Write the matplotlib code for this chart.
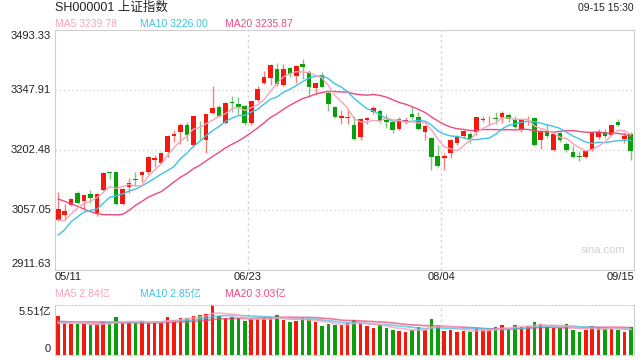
import pandas as pd
import matplotlib
matplotlib.use("Agg")
import matplotlib.pyplot as plt

plt.rcParams['font.family'] = ['Liberation Sans', 'Noto Sans CJK SC', 'DejaVu Sans']

# 上证指数 日K 2022-05-11 .. 2022-09-15
dates = ['05/11', '06/23', '08/04', '09/15']
date_idx = [0, 30, 60, 89]

# closes before the window (for the moving averages)
close_prev = [3167.13, 3213.33, 3186.82, 3225.64, 3211.24, 3195.52, 3194.03, 3151.05,
              3079.81, 3086.92, 2928.51, 2886.43, 2958.28, 2975.48, 3047.06, 3067.76,
              3001.56, 3004.14, 3035.84]

opens = [3034, 3046, 3070, 3099, 3078, 3095, 3050, 3106, 3148.5, 3148,
         3072, 3113, 3133, 3143, 3148, 3178, 3172, 3197, 3237, 3247,
         3262, 3215, 3256.5, 3226, 3291, 3306, 3268, 3318, 3313, 3309,
         3268, 3323, 3364, 3378, 3398, 3360, 3401, 3382, 3410, 3392,
         3352, 3385, 3340, 3307, 3280, 3280, 3262, 3234, 3276, 3294,
         3297, 3275, 3271, 3253, 3273, 3289, 3283, 3247, 3231, 3188,
         3182, 3196, 3220, 3236, 3241, 3245, 3274, 3274, 3279, 3283,
         3288, 3276, 3250, 3274, 3280, 3226, 3249, 3202, 3243, 3217,
         3198, 3187, 3186, 3205, 3235, 3245, 3240, 3270, 3228, 3242]
highs = [3100, 3071, 3086, 3104, 3097, 3105, 3099, 3148, 3150, 3150,
         3110, 3135, 3148, 3152, 3189, 3190, 3198, 3238, 3252, 3267,
         3271, 3286, 3273, 3290, 3358, 3312, 3320, 3333, 3330, 3312,
         3322, 3357, 3393, 3412, 3414, 3412, 3404, 3408, 3424, 3396,
         3368, 3392, 3345, 3310, 3300, 3303, 3286, 3280, 3283, 3308,
         3302, 3290, 3273, 3283, 3282, 3306, 3295, 3262, 3233, 3215,
         3195, 3229, 3240, 3250, 3247, 3283, 3285, 3285, 3295, 3298,
         3292, 3285, 3279, 3285, 3282, 3250, 3265, 3242, 3246, 3222,
         3214, 3199, 3201, 3245, 3254, 3254, 3263, 3278, 3245, 3246]
lows = [3030, 3033, 3066, 3072, 3060, 3074, 3042, 3103, 3131, 3068,
        3070, 3098, 3115, 3125, 3144, 3162, 3170, 3185, 3222, 3218,
        3225, 3210, 3228, 3196, 3289, 3283, 3265, 3295, 3290, 3264,
        3262, 3320, 3362, 3360, 3358, 3358, 3380, 3364, 3375, 3333,
        3336, 3354, 3297, 3279, 3265, 3265, 3226, 3226, 3265, 3290,
        3268, 3255, 3244, 3251, 3265, 3278, 3250, 3227, 3155, 3161,
        3155, 3184, 3215, 3232, 3219, 3238, 3270, 3263, 3265, 3268,
        3270, 3255, 3247, 3263, 3212, 3205, 3232, 3200, 3222, 3198,
        3183, 3175, 3182, 3200, 3230, 3232, 3238, 3260, 3220, 3178]
closes = [3058.70, 3054.99, 3084.28, 3073.75, 3093.70, 3085.98, 3096.96, 3146.57, 3146.86, 3070.93,
          3107.46, 3123.11, 3130.24, 3149.06, 3186.43, 3182.16, 3195.46, 3236.37, 3241.76, 3263.79,
          3238.95, 3284.83, 3255.55, 3288.91, 3305.41, 3285.38, 3316.79, 3315.43, 3306.72, 3267.20,
          3320.15, 3349.75, 3379.19, 3409.21, 3361.52, 3398.62, 3387.64, 3405.43, 3404.03, 3355.35,
          3364.40, 3356.08, 3313.58, 3281.47, 3284.29, 3281.74, 3228.06, 3278.10, 3279.43, 3304.72,
          3272.00, 3269.97, 3250.39, 3277.44, 3275.76, 3282.58, 3253.24, 3259.96, 3186.27, 3163.67,
          3189.04, 3227.03, 3236.93, 3247.43, 3230.02, 3281.67, 3276.89, 3276.09, 3277.88, 3292.53,
          3277.54, 3258.08, 3277.79, 3276.22, 3215.20, 3246.25, 3236.22, 3240.73, 3227.22, 3202.14,
          3184.98, 3186.48, 3199.91, 3243.45, 3246.29, 3235.59, 3262.05, 3263.80, 3237.54, 3199.92]

# volume in 亿; the days before the window are estimated from where the averages start
vol_prev = [3.6, 3.8, 3.5, 3.4, 3.3, 3.4, 3.6, 4.0, 3.5, 4.2,
            3.9, 4.3, 3.9, 4.0, 3.6, 3.4, 3.2, 3.1, 3.5]
volumes = [4.28, 3.48, 3.37, 3.45, 3.37, 3.27, 3.41, 3.66, 3.48, 4.17,
           3.48, 3.66, 3.59, 3.70, 3.59, 3.59, 3.66, 4.17, 3.84, 4.10,
           4.10, 4.35, 4.39, 4.53, 5.51, 4.32, 4.03, 4.17, 4.03, 3.77,
           3.92, 3.92, 4.13, 4.10, 4.39, 3.84, 3.59, 3.77, 4.10, 3.92,
           3.60, 3.19, 3.41, 3.30, 3.30, 3.55, 3.84, 3.48, 3.19, 3.01,
           3.30, 3.01, 2.76, 2.65, 2.58, 2.76, 3.05, 2.76, 3.95, 3.30,
           2.65, 2.76, 2.58, 2.65, 2.54, 2.87, 2.76, 2.76, 3.08, 3.30,
           2.90, 3.30, 3.12, 3.19, 3.66, 3.41, 3.05, 3.01, 3.01, 3.41,
           2.80, 2.54, 2.76, 3.22, 2.94, 2.87, 2.90, 2.78, 2.55, 3.12]

price_ticks = [2911.63, 3057.05, 3202.48, 3347.91, 3493.33]

RED = '#f3190c'
GREEN = '#0b9f0b'
C_MA5, C_MA10, C_MA20 = '#f9a3bc', '#3ec3e4', '#ee4a7f'
GRID = '#d6d6d6'
BORDER = '#cfcfcf'

n = len(closes)
x = list(range(n))
up = [c >= o for o, c in zip(opens, closes)]
cols = [RED if u else GREEN for u in up]

cs = pd.Series(close_prev + closes)
ma5 = cs.rolling(5).mean().iloc[-n:].values
ma10 = cs.rolling(10).mean().iloc[-n:].values
ma20 = cs.rolling(20).mean().iloc[-n:].values
vs = pd.Series(vol_prev + volumes)
vma5 = vs.rolling(5).mean().iloc[-n:].values
vma10 = vs.rolling(10).mean().iloc[-n:].values
vma20 = vs.rolling(20).mean().iloc[-n:].values

fig = plt.figure(figsize=(6.4, 3.6), dpi=100)
ax = fig.add_axes([55 / 640, 90 / 360, 579 / 640, 240 / 360])
vax = fig.add_axes([55 / 640, 5 / 360, 579 / 640, 50 / 360])

# --- price panel
ax.set_xlim(-0.5, n - 0.5)
ax.set_ylim(price_ticks[0], price_ticks[-1])
for p in price_ticks[1:-1]:
    ax.axhline(p, color=GRID, lw=1, ls=(0, (1, 2)), zorder=0)
for i in date_idx[1:3]:
    ax.axvline(i - 0.5, color=GRID, lw=1, ls=(0, (2, 2)), zorder=0)

ax.vlines(x, lows, highs, colors=cols, lw=1, alpha=0.55, zorder=2)
body = [max(abs(c - o), 1.3) for o, c in zip(opens, closes)]
bottom = [min(o, c) for o, c in zip(opens, closes)]
ax.bar(x, body, bottom=bottom, width=0.72, color=cols, lw=0, zorder=3)

ax.plot(x, ma20, color=C_MA20, lw=1, zorder=4)
ax.plot(x, ma10, color=C_MA10, lw=1, zorder=4)
ax.plot(x, ma5, color=C_MA5, lw=1, zorder=4)

for s in ax.spines.values():
    s.set_color(BORDER)
ax.set_xticks([])
ax.set_yticks([])

ytr = ax.get_yaxis_transform()
for k, p in enumerate(price_ticks):
    va = 'bottom' if k == 0 else ('top' if k == len(price_ticks) - 1 else 'center')
    dy = 1.5 if k == 0 else (-1.5 if k == len(price_ticks) - 1 else 0)
    ax.text(-0.007, p + dy, f'{p:.2f}', transform=ytr, ha='right', va=va,
            fontsize=8, color='#222222')

xtr = ax.get_xaxis_transform()
for lab, i in zip(dates, date_idx):
    if i == 0:
        ax.text(-0.5, -0.03, lab, transform=xtr, ha='left', va='center', fontsize=8, color='#222222')
    elif i == n - 1:
        ax.text(n - 0.5, -0.03, lab, transform=xtr, ha='right', va='center', fontsize=8, color='#222222')
    else:
        ax.text(i - 0.5, -0.03, lab, transform=xtr, ha='center', va='center', fontsize=8, color='#222222')

ax.text(0.985, 0.085, 'sina.com', transform=ax.transAxes, ha='right', va='center',
        fontsize=8, color='#d2d2d2')

# --- volume panel
vax.set_xlim(-0.5, n - 0.5)
vax.set_ylim(0, max(volumes))
for i in date_idx[1:3]:
    vax.axvline(i - 0.5, color=GRID, lw=1, ls=(0, (2, 2)), zorder=0)
vax.bar(x, volumes, width=0.55, color=cols, lw=0, zorder=2)
vax.plot(x, vma20, color=C_MA20, lw=1.2, alpha=0.75, zorder=3)
vax.plot(x, vma10, color=C_MA10, lw=1.2, alpha=0.75, zorder=3)
vax.plot(x, vma5, color=C_MA5, lw=1.4, alpha=0.75, zorder=3)
for k, s in vax.spines.items():
    s.set_color(BORDER)
    if k in ('top', 'bottom'):
        s.set_linestyle((0, (1, 2)))
vax.set_xticks([])
vax.set_yticks([])
vtr = vax.get_yaxis_transform()
vax.text(-0.007, max(volumes) - 0.15, f'{max(volumes):.2f}亿', transform=vtr, ha='right', va='top',
         fontsize=8, color='#222222')
vax.text(-0.007, 0.15, '0', transform=vtr, ha='right', va='bottom', fontsize=8, color='#222222')

# --- header texts
fig.text(55 / 640, 1 - 8 / 360, 'SH000001 上证指数', ha='left', va='center', fontsize=9, color='#222222')
fig.text(634 / 640, 1 - 8 / 360, '09-15 15:30', ha='right', va='center', fontsize=7.5, color='#222222')

legend_x = [55, 140, 225]
price_leg = [('MA5 3239.78', C_MA5), ('MA10 3226.00', C_MA10), ('MA20 3235.87', C_MA20)]
for lx, (t, c) in zip(legend_x, price_leg):
    fig.text(lx / 640, 1 - 24 / 360, t, ha='left', va='center', fontsize=7.5, color=c)
vol_leg = [('MA5 2.84亿', C_MA5), ('MA10 2.85亿', C_MA10), ('MA20 3.03亿', C_MA20)]
for lx, (t, c) in zip(legend_x, vol_leg):
    fig.text(lx / 640, 1 - 294 / 360, t, ha='left', va='center', fontsize=7.5, color=c)

fig.savefig('out.png', dpi=100)
